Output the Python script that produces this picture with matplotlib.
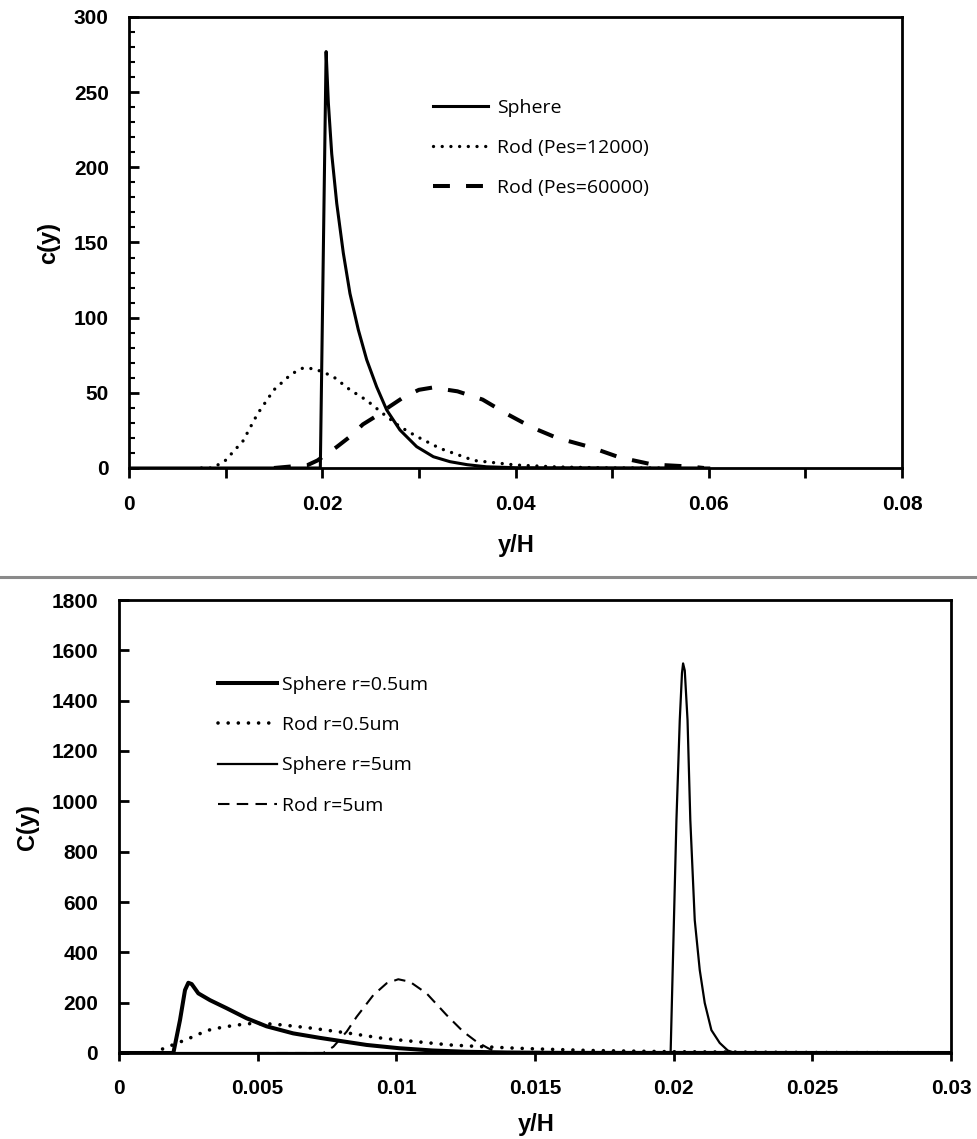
import matplotlib
matplotlib.use("Agg")
import matplotlib.pyplot as plt
from matplotlib.lines import Line2D
from matplotlib.ticker import MultipleLocator
from matplotlib.font_manager import FontProperties

# ---------------- data: top panel ----------------
top_sphere_x = [0, 0.0198, 0.0204, 0.02063, 0.02098, 0.0215, 0.02218, 0.02287, 0.02373, 0.0246,
                0.02563, 0.02667, 0.02804, 0.02977, 0.0315, 0.03322, 0.0350, 0.0370, 0.0400, 0.0600]
top_sphere_y = [0, 0, 277, 243, 209, 176, 143, 116, 92, 72,
                54, 38.6, 25.3, 14.2, 7.5, 4.2, 2.2, 0.8, 0.2, 0]

top_rod12_x = [0.0075, 0.0086, 0.0099, 0.0118, 0.0133, 0.0150, 0.0168, 0.0180, 0.0192, 0.0211,
               0.02287, 0.0246, 0.02632, 0.02804, 0.02977, 0.0322, 0.0357, 0.0400, 0.0443, 0.0500, 0.0550]
top_rod12_y = [0, 0, 4.5, 18, 36, 52, 62.5, 66.5, 66, 61,
               52, 45, 36, 27.5, 21, 13, 5, 2, 0.7, 0, 0]

top_rod60_x = [0.0150, 0.0185, 0.0195, 0.0215, 0.0229, 0.0242, 0.0257, 0.0270, 0.0284, 0.0300,
               0.0314, 0.0340, 0.0366, 0.0391, 0.0417, 0.0443, 0.0477, 0.0508, 0.0542, 0.0580, 0.0595]
top_rod60_y = [0, 2, 5, 14, 21, 29, 35, 41, 47, 52,
               53.5, 51, 45.5, 36, 27, 20, 14, 7, 2.3, 1, 0]

top_labels = ["Sphere", "Rod (Pes=12000)", "Rod (Pes=60000)"]
top_xticks = [0, 0.02, 0.04, 0.06, 0.08]
top_xticklabels = ["0", "0.02", "0.04", "0.06", "0.08"]
top_yticks = [0, 50, 100, 150, 200, 250, 300]

# ---------------- data: bottom panel ----------------
sph05_x = [0, 0.00196, 0.0022, 0.00238, 0.0025, 0.00262, 0.00286, 0.00328, 0.00388, 0.0046,
           0.00532, 0.00628, 0.00725, 0.00893, 0.0101, 0.0113, 0.0125, 0.0140, 0.0160, 0.0300]
sph05_y = [0, 0, 131, 250, 279, 274, 237, 210, 178, 138,
           106, 78, 60, 32, 19, 10, 5, 2, 0.5, 0]

rod05_x = [0.0005, 0.00120, 0.00148, 0.00184, 0.00244, 0.0028, 0.00316, 0.00352, 0.00388, 0.00424,
           0.00484, 0.00556, 0.00628, 0.0070, 0.00833, 0.00953, 0.01073, 0.01193, 0.01313, 0.01434,
           0.01542, 0.0170, 0.0200, 0.0250, 0.0300]
rod05_y = [0, 0, 12, 28, 54, 71, 89, 98, 105, 111,
           118, 115, 107, 98, 78, 58, 45, 32, 25, 19,
           15, 10, 5, 2, 1]

sph5_x = [0, 0.01989, 0.0201, 0.02022, 0.0203, 0.02034, 0.0204, 0.0205, 0.0206, 0.02076,
          0.02094, 0.02112, 0.02136, 0.02166, 0.02195, 0.0222, 0.0300]
sph5_y = [0, 0, 926, 1323, 1510, 1548, 1520, 1323, 926, 528,
          330, 199, 91, 40, 10, 0, 0]

rod5_x = [0.0050, 0.00737, 0.00773, 0.00821, 0.00857, 0.00917, 0.00965, 0.01007, 0.01049, 0.01109,
          0.01181, 0.01241, 0.01289, 0.01331, 0.0137, 0.0160]
rod5_y = [0, 0, 25, 85, 144, 230, 277, 293, 283, 237,
          151, 85, 45, 19, 0, 0]

bot_labels = ["Sphere r=0.5um", "Rod r=0.5um", "Sphere r=5um", "Rod r=5um"]
bot_xticks = [0, 0.005, 0.01, 0.015, 0.02, 0.025, 0.03]
bot_xticklabels = ["0", "0.005", "0.01", "0.015", "0.02", "0.025", "0.03"]
bot_yticks = [0, 200, 400, 600, 800, 1000, 1200, 1400, 1600, 1800]

# ---------------- styling ----------------
BOLDFAM = ["Liberation Sans", "DejaVu Sans"]
TICKFP = FontProperties(family=BOLDFAM, weight="bold", size=15)
LABFONT = dict(family=BOLDFAM, weight="bold", size=17)
LEGFP = FontProperties(family=["Open Sans", "DejaVu Sans"], size=14)

W, H = 977, 1139
fig = plt.figure(figsize=(W / 100, H / 100), dpi=100)


def ax_rect(l, t, r, b):
    return [l / W, 1 - b / H, (r - l) / W, (b - t) / H]


def style_axes(ax):
    for s in ax.spines.values():
        s.set_linewidth(2.0)
        s.set_color("black")
    for lab in ax.get_xticklabels() + ax.get_yticklabels():
        lab.set_fontproperties(TICKFP)


# ---- top panel ----
ax1 = fig.add_axes(ax_rect(129, 17, 902, 468))
ax1.plot(top_sphere_x, top_sphere_y, color="black", lw=2.2, solid_joinstyle="round",
         label=top_labels[0])
ax1.plot(top_rod12_x, top_rod12_y, color="black", lw=2.4, linestyle=(0, (0.01, 2.6)),
         dash_capstyle="round", label=top_labels[1])
ax1.plot(top_rod60_x, top_rod60_y, color="black", lw=2.9, linestyle=(0, (4.2, 4.0)),
         label=top_labels[2])
ax1.set_xlim(0, 0.08)
ax1.set_ylim(0, 300)
ax1.set_xticks(top_xticks)
ax1.set_xticklabels(top_xticklabels)
ax1.set_yticks(top_yticks)
ax1.xaxis.set_minor_locator(MultipleLocator(0.01))
ax1.yaxis.set_minor_locator(MultipleLocator(10))
ax1.tick_params(axis="x", which="both", direction="out", length=7, width=2, pad=12.5)
ax1.tick_params(axis="y", which="major", direction="in", length=7, width=2, pad=14.5)
ax1.tick_params(axis="y", which="minor", direction="in", length=4, width=1.5)
style_axes(ax1)
ax1.legend(loc="upper left", bbox_to_anchor=(0.393, 0.818), frameon=False, prop=LEGFP,
           handlelength=2.86, handletextpad=0.45, labelspacing=1.12,
           borderpad=0, borderaxespad=0)

fig.text(516 / W, 1 - 546 / H, "y/H", ha="center", va="center", **LABFONT)
fig.text(49 / W, 1 - 243 / H, "c(y)", ha="center", va="center", rotation=90, **LABFONT)

# separator between the two panels
fig.add_artist(Line2D([0, 1], [1 - 577 / H, 1 - 577 / H], transform=fig.transFigure,
                      color="#8a8a8a", lw=2.2))

# ---- bottom panel ----
ax2 = fig.add_axes(ax_rect(119, 600, 951, 1053))
ax2.plot(sph05_x, sph05_y, color="black", lw=2.9, solid_joinstyle="round", label=bot_labels[0])
ax2.plot(rod05_x, rod05_y, color="black", lw=2.6, linestyle=(0, (0.01, 2.8)),
         dash_capstyle="round", label=bot_labels[1])
ax2.plot(sph5_x, sph5_y, color="black", lw=1.6, solid_joinstyle="round", label=bot_labels[2])
ax2.plot(rod5_x, rod5_y, color="black", lw=1.5, linestyle=(0, (5.5, 3.5)), label=bot_labels[3])
ax2.set_xlim(0, 0.03)
ax2.set_ylim(0, 1800)
ax2.set_xticks(bot_xticks)
ax2.set_xticklabels(bot_xticklabels)
ax2.set_yticks(bot_yticks)
ax2.tick_params(axis="x", which="both", direction="out", length=6, width=2, pad=12.5)
ax2.tick_params(axis="y", which="major", direction="in", length=7, width=2, pad=15)
style_axes(ax2)
ax2.legend(loc="upper left", bbox_to_anchor=(0.119, 0.833), frameon=False, prop=LEGFP,
           handlelength=3.04, handletextpad=0.27, labelspacing=1.15,
           borderpad=0, borderaxespad=0)

fig.text(536 / W, 1 - 1124 / H, "y/H", ha="center", va="center", **LABFONT)
fig.text(28 / W, 1 - 827 / H, "C(y)", ha="center", va="center", rotation=90, **LABFONT)

fig.savefig("out.png", dpi=100, facecolor="white")
